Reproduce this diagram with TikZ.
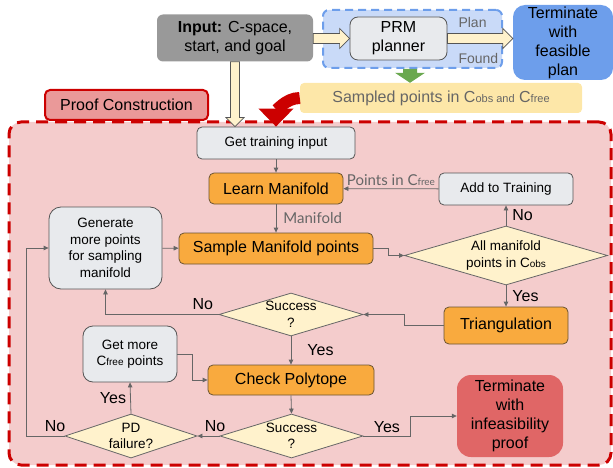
\documentclass[tikz,border=0pt]{standalone}
\usepackage{fontspec}
\setmainfont{Liberation Sans}
\newfontfamily\latofont{Lato}
\usetikzlibrary{positioning, shapes.geometric, arrows.meta, calc}

\definecolor{planblue}{HTML}{6D9EEB}
\definecolor{planfill}{HTML}{C9DAF8}
\definecolor{inputgray}{HTML}{999999}
\definecolor{boxgray}{HTML}{E8EAED}
\definecolor{boxline}{HTML}{555555}
\definecolor{linegray}{HTML}{666666}
\definecolor{orangefill}{HTML}{F9AA3E}
\definecolor{orangeline}{HTML}{6B5432}
\definecolor{creamfill}{HTML}{FFF2CC}
\definecolor{sampledfill}{HTML}{FDE7A8}
\definecolor{infeasred}{HTML}{E06666}
\definecolor{prooffill}{HTML}{F4CCCC}
\definecolor{proofred}{HTML}{CC0000}
\definecolor{labelpink}{HTML}{EA9999}
\definecolor{arrowgreen}{HTML}{6AA84F}

\newcommand{\bigtext}{\fontsize{16}{19}\selectfont}
\newcommand{\smalltext}{\fontsize{13.5}{16.5}\selectfont}
\newcommand{\Cset}[2]{C{\fontsize{#1}{#1}\selectfont #2}}

\begin{document}
\begin{tikzpicture}[x=1pt, y=-1pt,
    flowbox/.style={rectangle, rounded corners=5pt, draw=boxline, line width=0.8pt,
        inner sep=0pt, align=center},
    graybox/.style={flowbox, fill=boxgray, font=\smalltext},
    orangebox/.style={flowbox, fill=orangefill, draw=orangeline, font=\bigtext},
    decision/.style={diamond, draw=linegray, line width=0.8pt, fill=creamfill,
        inner sep=-3pt, align=center, font=\smalltext},
    endbox/.style={rectangle, rounded corners=12pt, inner sep=0pt, align=center, font=\bigtext},
    flow/.style={draw=linegray, line width=0.8pt, -{Triangle[length=5pt, width=4.5pt]}},
    blockarrow/.style={fill=creamfill, draw=boxline, line width=0.7pt},
    ans/.style={font=\bigtext, inner sep=1pt},
    edgelabel/.style={font=\latofont\fontsize{15}{18}\selectfont, text=linegray, inner sep=1pt}]

    \useasboundingbox (0,0) rectangle (613,468);

    %% Planning
    % Regions
    \node[rectangle, rounded corners=6pt, draw=planblue, fill=planfill, line width=2pt,
        dash pattern=on 8pt off 5pt, minimum width=179pt, minimum height=58pt] (plan) at (412.5,39) {};

    % Boxes
    \node[rectangle, rounded corners=6pt, fill=inputgray, minimum width=156pt, minimum height=47pt,
        align=center, font=\bigtext] (input) at (235,38) {\textbf{Input:} C-space,\\start, and goal};
    \node[flowbox, fill=boxgray, rounded corners=8pt, minimum width=97pt, minimum height=43pt,
        font=\bigtext] (prm) at (398.5,38.5) {PRM\\planner};
    \node[endbox, fill=planblue, minimum width=100pt, minimum height=75pt] (feasible) at (563,42.5)
        {Terminate\\with\\feasible\\plan};
    \node[rectangle, rounded corners=4pt, fill=sampledfill, minimum width=282pt, minimum height=30pt,
        font=\bigtext, text=linegray] (sampled) at (441,98)
        {Sampled points in \Cset{11}{obs and} \Cset{11}{free}};

    % Labels
    \node[anchor=west, font=\fontsize{14}{16}\selectfont, text=linegray] (planlbl) at (455,22) {Plan};
    \node[anchor=west, font=\fontsize{14}{16}\selectfont, text=linegray] (foundlbl) at (455,58) {Found};

    %% Proof construction
    % Region
    \node[rectangle, rounded corners=12pt, draw=proofred, fill=prooffill, line width=3pt,
        dash pattern=on 12pt off 7pt, minimum width=602pt, minimum height=343pt] (proof) at (310,293.5) {};
    \node[rectangle, rounded corners=5pt, draw=proofred, fill=labelpink, line width=2pt,
        minimum width=163pt, minimum height=30pt, font=\bigtext] (prooflbl) at (126.5,105) {Proof Construction};

    % Boxes
    \node[graybox, minimum width=158pt, minimum height=32pt] (train) at (276,143) {Get training input};
    \node[orangebox, minimum width=134pt, minimum height=31pt] (learn) at (276,188.5) {Learn Manifold};
    \node[orangebox, minimum width=194pt, minimum height=31pt] (sample) at (276,248.5) {Sample Manifold points};
    \node[graybox, minimum width=134pt, minimum height=32pt] (addtrain) at (506,189) {Add to Training};
    \node[graybox, rounded corners=12pt, minimum width=113pt, minimum height=82pt] (gen) at (105.5,248)
        {Generate\\more points\\for sampling\\manifold};
    \node[orangebox, minimum width=124pt, minimum height=37pt] (tri) at (506,325.5) {Triangulation};
    \node[orangebox, minimum width=166pt, minimum height=30pt] (check) at (291,380) {Check Polytope};
    \node[graybox, rounded corners=10pt, minimum width=94pt, minimum height=56pt] (getmore) at (130,354)
        {Get more\\\Cset{10}{free} points};
    \node[endbox, fill=infeasred, rounded corners=14pt, minimum width=106pt, minimum height=82pt] (infeas)
        at (510,416) {Terminate\\with\\infeasibility\\proof};

    % Decisions
    \node[decision, aspect=3.44, minimum width=203pt, minimum height=59pt] (allin) at (506,255.5)
        {All manifold\\points in \Cset{10}{obs}};
    \node[decision, aspect=3.35, minimum width=144pt, minimum height=43pt] (succ1) at (291,314.5) {Success\\?};
    \node[decision, aspect=3.25, minimum width=143pt, minimum height=44pt] (succ2) at (291.5,436) {Success\\?};
    \node[decision, aspect=3, minimum width=132pt, minimum height=44pt] (pdfail) at (131,436) {PD\\failure?};

    %% Block arrows
    \filldraw[blockarrow] let \p1=(input.south), \p2=(train.north) in
        (\x1-4.5pt,\y1) -- (\x1-4.5pt,\y2+9pt) -- (\x1-9pt,\y2+9pt) -- (\x1,\y2)
        -- (\x1+9pt,\y2+9pt) -- (\x1+4.5pt,\y2+9pt) -- (\x1+4.5pt,\y1) -- cycle;
    \filldraw[blockarrow] let \p1=(input.east), \p2=(prm.west) in
        (\x1,\y2+5pt) -- (\x2-10pt,\y2+5pt) -- (\x2-10pt,\y2+10pt) -- (\x2,\y2)
        -- (\x2-10pt,\y2-10pt) -- (\x2-10pt,\y2-5pt) -- (\x1,\y2-5pt) -- cycle;
    \filldraw[blockarrow] let \p1=(prm.east), \p2=(feasible.west) in
        (\x1,\y1+5pt) -- (\x2-10pt,\y1+5pt) -- (\x2-10pt,\y1+10pt) -- (\x2,\y1)
        -- (\x2-10pt,\y1-10pt) -- (\x2-10pt,\y1-5pt) -- (\x1,\y1-5pt) -- cycle;
    \fill[arrowgreen] let \p1=($(plan.south)+(-2.5,0)$), \p2=(sampled.north) in
        (\x1-7pt,\y1) -- (\x1-7pt,\y2+10pt) -- (\x1-15pt,\y2+10pt) -- (\x1,\y2)
        -- (\x1+15pt,\y2+10pt) -- (\x1+7pt,\y2+10pt) -- (\x1+7pt,\y1) -- cycle;
    \draw[proofred, line width=12pt, -{Triangle[length=18pt, width=34pt]}]
        (sampled.west) to[out=180, in=90] (train.north);

    %% Transitions
    \draw[flow] (train) -- (learn);
    \draw[flow] (learn) -- node[edgelabel, right=6pt] {Manifold} (sample);
    \draw[flow] (addtrain) -- node[edgelabel, above=2pt] {Points in \Cset{10}{free}} (learn);
    \draw[flow] (gen) -- (sample);
    \draw[flow] (sample.east) -- ++(15,0) |- (allin.west);
    \draw[flow] (allin.north) -- node[ans, right=5pt] {No} (addtrain.south);
    \draw[flow] (allin.south) -- node[ans, right=5pt] {Yes} (tri.north);
    \draw[flow] (tri.west) -- ++(-39,0) |- (succ1.east);
    \draw[flow] (succ1.west) -| node[ans, above=3pt, pos=0.07] {No} (gen.south);
    \draw[flow] (succ1.south) -- node[ans, right=15pt] {Yes} (check.north);
    \draw[flow] (getmore.east) -- ++(15,0) |- (check.west);
    \draw[flow] (check.south) -- (succ2.north);
    \draw[flow] (succ2.east) -- node[ans, above=2pt] {Yes} ++(47,0) |- (infeas.west);
    \draw[flow] (succ2.west) -- node[ans, above=3pt, pos=0.2] {No} (pdfail.east);
    \draw[flow] (pdfail.north) -- node[ans, left=3pt] {Yes} (getmore.south);
    \draw[flow] (pdfail.west) -- node[ans, above=3pt, pos=0.25] {No} ++(-38,0) |- (gen.west);
\end{tikzpicture}
\end{document}
